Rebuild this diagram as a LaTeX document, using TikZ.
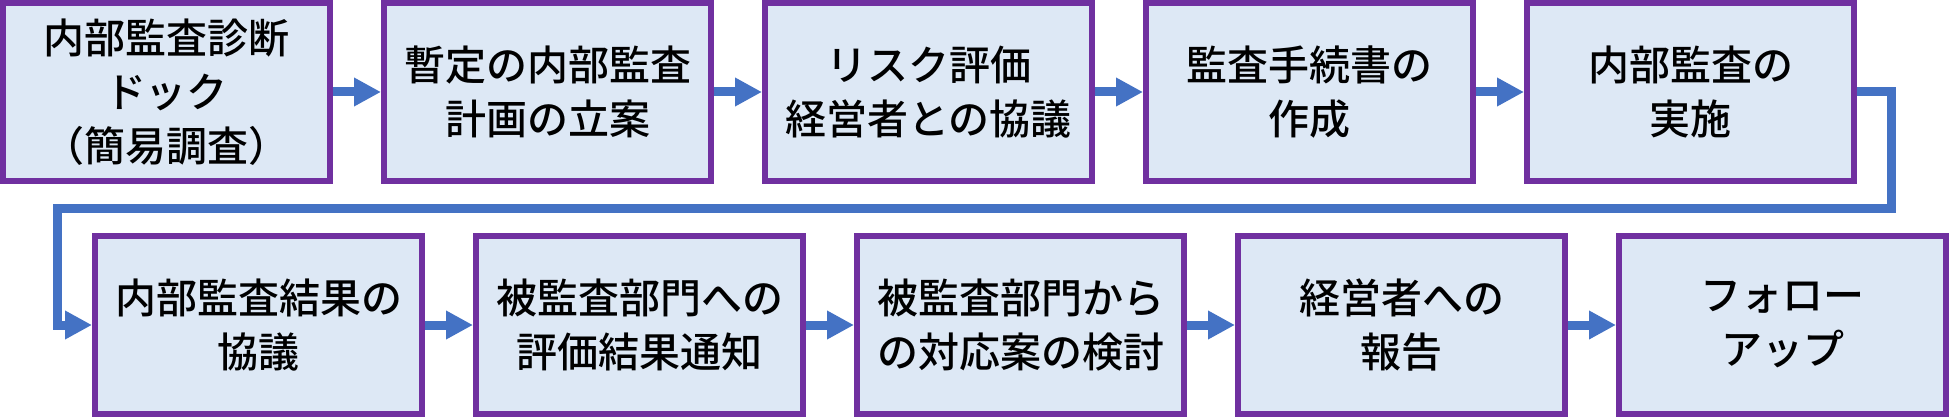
\documentclass[tikz,border=0pt]{standalone}
\usepackage{fontspec}
\setmainfont{Noto Sans CJK JP}[BoldFont={Noto Sans CJK JP Medium}]
\usepackage{xcolor}
\usepackage{tikz}
\usetikzlibrary{arrows.meta, positioning, calc}

\definecolor{boxline}{HTML}{7030A0}
\definecolor{boxfill}{HTML}{DDE8F5}
\definecolor{arrblue}{HTML}{4472C4}

\begin{document}
\begin{tikzpicture}[
    node distance=24.5pt and 24pt,
    box/.style={draw=boxline, fill=boxfill, line width=3pt,
                minimum width=163.5pt, minimum height=89pt, inner sep=0pt,
                font=\fontsize{20.5pt}{27pt}\selectfont\bfseries, align=center},
    arr/.style={-{Triangle[length=13.5pt, width=13.5pt]}, line width=4.5pt, arrblue},
    link/.style={arr, line join=miter},
]
\useasboundingbox (0,0) rectangle (975pt,-208.5pt);

% === Row 1 ===
\node[box, anchor=north west] at (0,0) (b1) {\fontsize{20.5pt}{25pt}\selectfont 内部監査診断\\ドック\\（簡易調査）};
\node[box, right=of b1] (b2) {暫定の内部監査\\計画の立案};
\node[box, right=of b2] (b3) {リスク評価\\経営者との協議};
\node[box, right=of b3] (b4) {監査手続書の\\作成};
\node[box, right=of b4] (b5) {内部監査の\\実施};

\draw[arr] (b1) -- (b2);
\draw[arr] (b2) -- (b3);
\draw[arr] (b3) -- (b4);
\draw[arr] (b4) -- (b5);

% === Row 2 ===
\node[box, below=of b1, xshift=46pt] (b6) {内部監査結果の\\協議};
\node[box, right=of b6] (b7) {被監査部門への\\評価結果通知};
\node[box, right=of b7] (b8) {被監査部門から\\の対応案の検討};
\node[box, right=of b8] (b9) {経営者への\\報告};
\node[box, right=of b9] (b10) {フォロー\\アップ};

\draw[arr] (b6) -- (b7);
\draw[arr] (b7) -- (b8);
\draw[arr] (b8) -- (b9);
\draw[arr] (b9) -- (b10);

% === Return line between rows ===
\coordinate (turn) at ($(b1.south)!0.5!(b6.north)$);
\draw[link] (b5.east) -- ++(17pt,0) |- (turn) -| ([xshift=-17.5pt]b6.west) -- (b6.west);

\end{tikzpicture}
\end{document}
